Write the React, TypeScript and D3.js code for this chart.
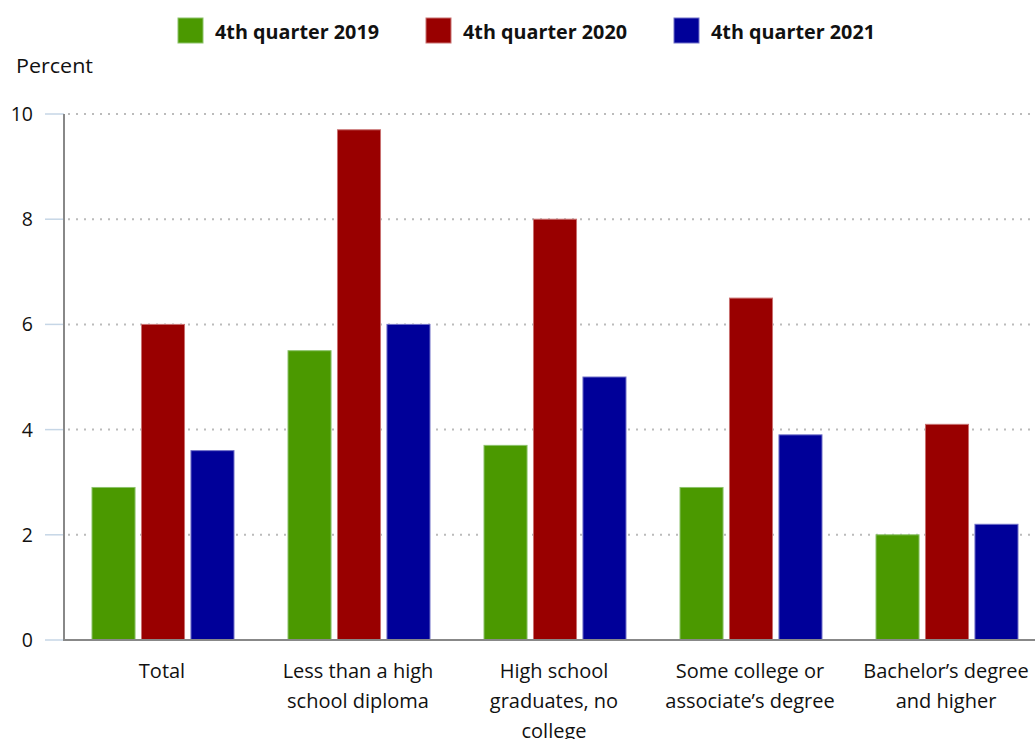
import React from "react";
import * as d3 from "d3";

const categories = [
  ["Total"],
  ["Less than a high", "school diploma"],
  ["High school", "graduates, no", "college"],
  ["Some college or", "associate’s degree"],
  ["Bachelor’s degree", "and higher"],
];
const seriesNames = ["4th quarter 2019", "4th quarter 2020", "4th quarter 2021"];
const q2019 = [2.9, 5.5, 3.7, 2.9, 2.0];
const q2020 = [6.0, 9.7, 8.0, 6.5, 4.1];
const q2021 = [3.6, 6.0, 5.0, 3.9, 2.2];
const yTicks = [0, 2, 4, 6, 8, 10];
const colors = ["#4b9900", "#990000", "#000099"];
const strokes = ["#8cc26a", "#c87070", "#7070c8"];

const W = 1035;
const H = 739;
const FONT = "'Open Sans', 'Noto Sans', sans-serif";

export default function App() {
  const series = [q2019, q2020, q2021];
  const x0 = 64;
  const x1 = 64 + 196 * 5;
  const y = d3.scaleLinear().domain([0, 10]).range([640, 114]);
  const xb = d3
    .scaleBand<number>()
    .domain(d3.range(categories.length))
    .range([x0, x1])
    .paddingInner(0)
    .paddingOuter(0);
  const inner = d3
    .scaleBand<number>()
    .domain(d3.range(series.length))
    .range([28, 196 - 26])
    .paddingInner(0.13);

  return (
    <svg width={W} height={H} style={{ position: "absolute", left: 0, top: 0 }}>
      <rect width={W} height={H} fill="#fff" />
      {/* legend */}
      {seriesNames.map((n, i) => {
        const lx = 178 + i * 248;
        return (
          <g key={n}>
            <rect x={lx} y={18} width={25} height={25} fill={colors[i]} stroke={strokes[i]} strokeWidth={1} />
            <text
              x={lx + 37}
              y={39}
              fontFamily={FONT}
              fontWeight="bold"
              fontSize={19}
              fill="#111"
              textLength={164}
              lengthAdjust="spacingAndGlyphs"
            >
              {n}
            </text>
          </g>
        );
      })}
      <text x={16} y={73} fontFamily={FONT} fontSize={20.5} fill="#111" textLength={77} lengthAdjust="spacingAndGlyphs">
        Percent
      </text>
      {/* grid */}
      {yTicks
        .filter((t) => t > 0)
        .map((t) => (
          <line
            key={t}
            x1={x0 + 4}
            x2={W}
            y1={y(t)}
            y2={y(t)}
            stroke="#bbbbbb"
            strokeWidth={2}
            strokeDasharray="2,6"
          />
        ))}
      {/* y ticks */}
      {yTicks.map((t) => (
        <g key={t}>
          <line x1={45} x2={x0} y1={y(t)} y2={y(t)} stroke="#c6d6e6" strokeWidth={1.5} />
          <text
            x={33}
            y={y(t) + 7}
            textAnchor="end"
            fontFamily={FONT}
            fontSize={19.5}
            fill="#111"
          >
            {t}
          </text>
        </g>
      ))}
      {/* bars */}
      {categories.map((c, ci) => (
        <g key={ci} transform={`translate(${xb(ci)},0)`}>
          {series.map((s, si) => (
            <rect
              key={si}
              x={inner(si)}
              y={y(s[ci])}
              width={inner.bandwidth()}
              height={y(0) - y(s[ci])}
              fill={colors[si]}
              stroke={strokes[si]}
              strokeWidth={1}
            />
          ))}
          {c.map((line, li) => (
            <text
              key={li}
              x={xb.bandwidth() / 2}
              y={678 + li * 30}
              textAnchor="middle"
              fontFamily={FONT}
              fontSize={20}
              fill="#111"
            >
              {line}
            </text>
          ))}
        </g>
      ))}
      {/* axes */}
      <line x1={x0} x2={x0} y1={y(10)} y2={y(0) + 1} stroke="#888" strokeWidth={2} />
      <line x1={x0} x2={W} y1={y(0)} y2={y(0)} stroke="#888" strokeWidth={2} />
    </svg>
  );
}
